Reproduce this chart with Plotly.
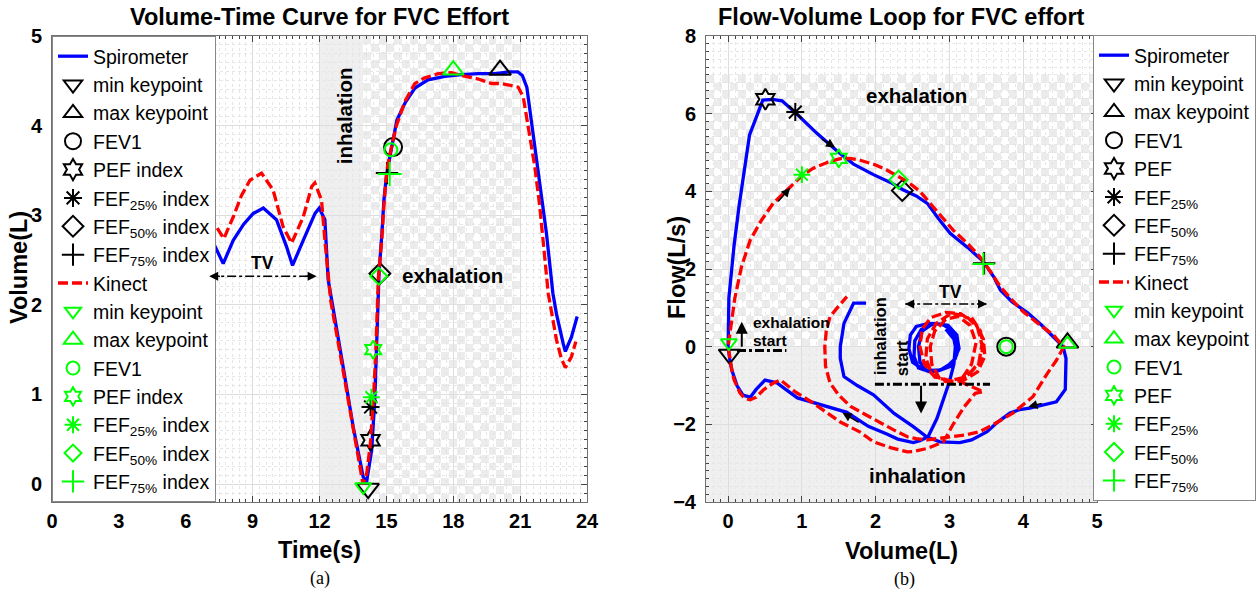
import plotly.graph_objects as go

# ---------------- Volume-time curve (panel a) ----------------
spiro_t = [7.0, 7.3, 7.68, 8.13, 8.6, 9.03, 9.48, 10.07, 10.52, 10.79, 11.27, 11.8, 11.99,
           12.24, 12.39, 12.54, 12.8, 13.06, 13.51, 13.96, 14.11, 14.34, 14.48, 14.56, 14.63,
           14.67, 14.8, 14.89, 15.02, 15.25, 15.38, 15.47, 15.83, 16.28, 16.87, 17.62, 18.37,
           19.12, 19.87, 20.5, 20.9, 21.1, 21.3, 21.58, 21.88, 22.18, 22.47, 22.63, 22.93,
           23.03, 23.3, 23.56]
spiro_v = [2.86, 2.66, 2.46, 2.72, 2.9, 3.02, 3.08, 2.95, 2.65, 2.44, 2.72, 3.02, 3.08,
           2.95, 2.28, 2.05, 1.68, 1.31, 0.64, 0.08, 0.02, 0.38, 0.94, 1.5, 2.05,
           2.35, 2.8, 3.17, 3.47, 3.76, 3.91, 4.06, 4.25, 4.42, 4.51, 4.55, 4.57,
           4.58, 4.58, 4.6, 4.6, 4.56, 4.43, 3.91, 3.32, 2.8, 2.13, 1.9, 1.57,
           1.48, 1.64, 1.87]

kinect_t = [7.0, 7.3, 7.71, 8.13, 8.5, 8.88, 9.4, 9.92, 10.37, 10.75, 11.27, 11.65, 11.79,
            12.09, 12.25, 12.4, 12.5, 13.0, 13.45, 13.95, 14.12, 14.28, 14.42, 14.53, 14.64,
            14.8, 14.9, 15.02, 15.2, 15.45, 15.83, 16.28, 16.7, 17.03, 17.32, 17.92, 18.37,
            19.12, 19.72, 20.16, 20.6, 20.91, 21.14, 21.43, 21.66, 21.88, 22.26, 22.63, 22.85,
            23.03, 23.3, 23.5]
kinect_v = [3.15, 2.9, 2.74, 2.98, 3.22, 3.39, 3.47, 3.28, 2.87, 2.69, 2.98, 3.32, 3.36,
            3.17, 2.7, 2.25, 2.05, 1.35, 0.7, 0.0, 0.12, 0.45, 0.95, 1.5, 2.3,
            2.75, 3.15, 3.5, 3.73, 4.0, 4.27, 4.47, 4.53, 4.56, 4.58, 4.59, 4.56,
            4.52, 4.47, 4.47, 4.45, 4.43, 4.32, 3.91, 3.54, 3.1, 2.13, 1.61, 1.4,
            1.3, 1.42, 1.59]

key_labels_vt = ["min keypoint", "max keypoint", "FEV1", "PEF index",
                 "FEF<sub>25%</sub> index", "FEF<sub>50%</sub> index", "FEF<sub>75%</sub> index"]
spiro_key_t = [14.18, 20.1, 15.3, 14.29, 14.29, 14.71, 15.03]
spiro_key_v = [-0.05, 4.62, 3.76, 0.49, 0.86, 2.35, 3.47]
kinect_key_t = [13.96, 18.0, 15.2, 14.41, 14.33, 14.66, 15.15]
kinect_key_v = [-0.03, 4.62, 3.73, 1.5, 0.97, 2.32, 3.46]

# ---------------- Flow-volume loop (panel b) ----------------
fv_spiro_vol = [
    # tidal loops
    2.95, 3.08, 3.1, 3.02, 2.85, 2.65, 2.5, 2.45, 2.47, 2.55, 2.72, 2.9, 3.05, 3.12, 3.08,
    2.95, 2.75, 2.58, 2.52, 2.53, 2.62, 2.8, 2.98, 3.1, 3.13, 3.05, 2.88, 2.7, 2.6, 2.58,
    2.63, 2.78, 2.95, 3.05, 3.08,
    # inhalation to residual volume
    3.06, 3.0, 2.92, 2.83, 2.71, 2.6, 2.51, 2.3, 2.15, 1.9, 1.61, 1.25, 0.94, 0.78, 0.66,
    0.5, 0.38, 0.3, 0.2, 0.12, 0.05, 0.02, 0.0,
    # forced exhalation
    0.01, 0.08, 0.15, 0.22, 0.29, 0.38, 0.47, 0.6, 0.73, 0.91, 1.2, 1.48, 1.7, 1.97, 2.2,
    2.37, 2.55, 2.7, 2.85, 3.01, 3.25, 3.46, 3.6, 3.69, 3.85, 4.06, 4.25, 4.41, 4.54,
    # inhalation after the effort
    4.58, 4.57, 4.45, 4.25, 4.09, 3.95, 3.82, 3.65, 3.51, 3.3, 3.14, 2.87, 2.69, 2.51,
    2.25, 1.97, 1.75, 1.57, 1.52, 1.52, 1.57, 1.7, 1.87]
fv_spiro_flow = [
    0.45, 0.15, -0.2, -0.5, -0.62, -0.6, -0.4, -0.05, 0.3, 0.52, 0.6, 0.58, 0.4, 0.05, -0.3,
    -0.55, -0.66, -0.55, -0.25, 0.15, 0.45, 0.6, 0.55, 0.3, -0.05, -0.4, -0.6, -0.62, -0.4, 0.0,
    0.4, 0.6, 0.55, 0.3, 0.0,
    -0.45, -0.9, -1.35, -1.85, -2.32, -2.42, -2.47, -2.38, -2.25, -2.05, -1.69, -1.5, -1.32, -1.1, -0.93,
    -0.86, -1.1, -1.3, -1.25, -1.0, -0.6, -0.3, 0.0,
    1.25, 2.6, 3.65, 4.6, 5.45, 5.9, 6.35, 6.37, 6.33, 6.03, 5.5, 5.03, 4.7, 4.43, 4.23,
    4.04, 3.88, 3.69, 3.3, 2.92, 2.55, 2.19, 1.8, 1.46, 1.15, 0.87, 0.55, 0.25, 0.0,
    -0.3, -1.1, -1.42, -1.52, -1.58, -1.62, -1.71, -1.95, -2.19, -2.4, -2.47, -2.45, -2.32, -2.06,
    -1.72, -1.24, -1.0, -0.77, -0.3, 0.0, 0.6, 1.12, 1.12]

fv_kinect_vol = [
    # tidal loops
    3.3, 3.42, 3.46, 3.4, 3.22, 3.0, 2.8, 2.66, 2.6, 2.63, 2.75, 2.95, 3.15, 3.35, 3.46,
    3.48, 3.38, 3.18, 2.95, 2.76, 2.68, 2.7, 2.82, 3.02, 3.22, 3.38, 3.44, 3.4, 3.25, 3.05,
    2.86, 2.76, 2.74, 2.8, 2.95, 3.12, 3.28, 3.36, 3.3, 3.14, 3.46,
    # inhalation to residual volume
    3.35, 3.2, 3.05, 2.92, 2.7, 2.51, 2.43, 2.2, 1.97, 1.79, 1.52, 1.15, 0.9, 0.71, 0.6,
    0.48, 0.38, 0.3, 0.22, 0.16, 0.08, 0.05, 0.02, 0.0,
    # forced exhalation
    0.09, 0.18, 0.3, 0.45, 0.61, 0.75, 0.87, 1.0, 1.15, 1.35, 1.52, 1.65, 1.79, 2.0, 2.15,
    2.3, 2.43, 2.6, 2.74, 2.9, 3.05, 3.25, 3.41, 3.55, 3.69, 3.85, 4.0, 4.2, 4.41, 4.5, 4.55,
    # inhalation after the effort
    4.45, 4.33, 4.13, 3.86, 3.6, 3.41, 3.2, 3.05, 2.87, 2.7, 2.55, 2.43, 2.25, 2.07, 1.85,
    1.66, 1.5, 1.38, 1.32, 1.31, 1.33, 1.38, 1.5, 1.61]
fv_kinect_flow = [
    0.75, 0.4, 0.0, -0.45, -0.78, -0.88, -0.78, -0.45, 0.0, 0.45, 0.75, 0.88, 0.85, 0.6, 0.2,
    -0.25, -0.65, -0.88, -0.9, -0.7, -0.3, 0.2, 0.6, 0.85, 0.8, 0.5, 0.05, -0.4, -0.75, -0.9,
    -0.8, -0.45, 0.0, 0.4, 0.7, 0.78, 0.55, 0.1, -0.45, -0.9, -1.16,
    -1.2, -1.55, -2.0, -2.45, -2.62, -2.7, -2.71, -2.6, -2.45, -2.2, -1.94, -1.45, -1.15, -0.86, -0.95,
    -1.11, -1.3, -1.37, -1.33, -1.19, -0.85, -0.6, -0.3, 0.0,
    1.24, 2.05, 2.75, 3.25, 3.69, 3.95, 4.16, 4.4, 4.59, 4.75, 4.84, 4.85, 4.8, 4.68, 4.55,
    4.4, 4.25, 4.0, 3.69, 3.35, 3.0, 2.65, 2.32, 1.95, 1.54, 1.2, 0.9, 0.6, 0.3, 0.1, 0.0,
    -0.35, -0.68, -1.29, -1.71, -2.0, -2.19, -2.28, -2.32, -2.36, -2.4, -2.37, -2.32, -2.15, -1.97, -1.75,
    -1.54, -1.25, -0.93, -0.5, 0.0, 0.4, 0.77, 1.05, 1.29]

key_labels_fv = ["min keypoint", "max keypoint", "FEV1", "PEF",
                 "FEF<sub>25%</sub>", "FEF<sub>50%</sub>", "FEF<sub>75%</sub>"]
spiro_key_vol = [0.02, 4.6, 3.77, 0.505, 0.91, 2.36, 3.47]
spiro_key_flow = [-0.2, 0.1, 0.0, 6.37, 6.04, 4.02, 2.15]
kinect_key_vol = [0.01, 4.6, 3.77, 1.5, 1.0, 2.31, 3.46]
kinect_key_flow = [0.1, 0.07, 0.0, 4.85, 4.43, 4.3, 2.13]

# ---------------- styling ----------------
W, H = 1260, 593
FONT = "Liberation Sans"
BLUE, RED, GREEN = "#0000ff", "#ff0000", "#00ff00"
symbols = ["triangle-down-open", "triangle-up-open", "circle-open", "hexagram-open",
           "asterisk-open", "diamond-open", "cross-thin-open"]
black_sizes = [19, 19, 18, 16, 15, 16, 16]
green_sizes_vt = [14, 18, 13, 14, 14, 13, 17]
green_sizes_fv = [14, 15, 13, 14, 14, 14, 16]
LEGEND_FONT = 19.5


def px_x(p):
    return p / W


def px_y(p):
    return 1 - p / H


dom_y = [px_y(502), px_y(36)]
dom_x1 = [px_x(52), px_x(587)]
dom_x2 = [px_x(706), px_x(1097)]


def checker(x0, x1, y0, y1, nx, ny):
    """Light checkerboard texture used to shade a breathing phase."""
    dx = (x1 - x0) / nx
    dy = (y1 - y0) / ny
    z = [[1 if (i + j) % 2 == 0 else None for i in range(nx)] for j in range(ny)]
    return dict(z=z, x0=x0 + dx / 2, dx=dx, y0=y0 + dy / 2, dy=dy)


fig = go.Figure()

# shaded phases
c1 = checker(13.95, 21.0, -0.2, 5.0, 20, 59)
fig.add_trace(go.Heatmap(**c1, colorscale=[[0, "#e2e2e2"], [1, "#e2e2e2"]], showscale=False,
                         opacity=0.65, hoverinfo="skip", xaxis="x", yaxis="y"))
c2 = checker(-0.3, 5.0, 0.0, 7.0, 49, 35)
fig.add_trace(go.Heatmap(**c2, colorscale=[[0, "#e2e2e2"], [1, "#e2e2e2"]], showscale=False,
                         opacity=0.65, hoverinfo="skip", xaxis="x2", yaxis="y2"))

# panel (a) curves and keypoints
fig.add_trace(go.Scatter(x=spiro_t, y=spiro_v, mode="lines", name="Spirometer",
                         line=dict(color=BLUE, width=3.3), xaxis="x", yaxis="y", legend="legend"))
for i, lab in enumerate(key_labels_vt):
    fig.add_trace(go.Scatter(x=[spiro_key_t[i]], y=[spiro_key_v[i]], mode="markers", name=lab,
                             marker=dict(symbol=symbols[i], size=black_sizes[i], color="black",
                                         line=dict(color="black", width=2)),
                             xaxis="x", yaxis="y", legend="legend"))
fig.add_trace(go.Scatter(x=kinect_t, y=kinect_v, mode="lines", name="Kinect",
                         line=dict(color=RED, width=3.3, dash="10px,4px"), xaxis="x", yaxis="y",
                         legend="legend"))
for i, lab in enumerate(key_labels_vt):
    fig.add_trace(go.Scatter(x=[kinect_key_t[i]], y=[kinect_key_v[i]], mode="markers", name=lab,
                             marker=dict(symbol=symbols[i], size=green_sizes_vt[i], color=GREEN,
                                         line=dict(color=GREEN, width=2)),
                             xaxis="x", yaxis="y", legend="legend"))

# panel (b) curves and keypoints
fig.add_trace(go.Scatter(x=fv_spiro_vol, y=fv_spiro_flow, mode="lines", name="Spirometer",
                         line=dict(color=BLUE, width=3.3), xaxis="x2", yaxis="y2", legend="legend2"))
for i, lab in enumerate(key_labels_fv):
    fig.add_trace(go.Scatter(x=[spiro_key_vol[i]], y=[spiro_key_flow[i]], mode="markers", name=lab,
                             marker=dict(symbol=symbols[i], size=black_sizes[i], color="black",
                                         line=dict(color="black", width=2)),
                             xaxis="x2", yaxis="y2", legend="legend2"))
fig.add_trace(go.Scatter(x=fv_kinect_vol, y=fv_kinect_flow, mode="lines", name="Kinect",
                         line=dict(color=RED, width=3.3, dash="10px,4px"), xaxis="x2", yaxis="y2",
                         legend="legend2"))
for i, lab in enumerate(key_labels_fv):
    fig.add_trace(go.Scatter(x=[kinect_key_vol[i]], y=[kinect_key_flow[i]], mode="markers", name=lab,
                             marker=dict(symbol=symbols[i], size=green_sizes_fv[i], color=GREEN,
                                         line=dict(color=GREEN, width=2)),
                             xaxis="x2", yaxis="y2", legend="legend2"))

axis_common = dict(showline=True, linecolor="#707070", linewidth=1, mirror="allticks",
                   ticks="inside", ticklen=6, tickcolor="#444", tickwidth=1,
                   showgrid=True, gridcolor="#dddddd", gridwidth=1, zeroline=False,
                   tickfont=dict(family=FONT, size=20, color="black", weight="bold"),
                   automargin=False)


def minor(step):
    return dict(dtick=step, ticklen=3, ticks="inside", tickcolor="#444",
                showgrid=True, gridcolor="#e6e6e6", griddash="dot")


fig.update_layout(
    width=W, height=H, margin=dict(l=0, r=0, t=0, b=0),
    paper_bgcolor="white", plot_bgcolor="white",
    font=dict(family=FONT, color="black"),
    showlegend=True,
    xaxis=dict(domain=dom_x1, range=[0, 24], tickvals=[0, 3, 6, 9, 12, 15, 18, 21, 24],
               anchor="y", ticklabelstandoff=1, minor=minor(0.3), **axis_common),
    yaxis=dict(domain=dom_y, range=[-0.2, 5], tickvals=[0, 1, 2, 3, 4, 5], anchor="x",
               ticklabelstandoff=5, minor=minor(0.1), **axis_common),
    xaxis2=dict(domain=dom_x2, range=[-0.3, 5], tickvals=[0, 1, 2, 3, 4, 5], anchor="y2",
                ticklabelstandoff=1, minor=minor(0.1), **axis_common),
    yaxis2=dict(domain=dom_y, range=[-4, 8], tickvals=[-4, -2, 0, 2, 4, 6, 8], anchor="x2",
                ticklabelstandoff=5, minor=minor(0.2), **axis_common),
    legend=dict(x=px_x(52), y=px_y(36), xanchor="left", yanchor="top", bgcolor="white",
                bordercolor="#888888", borderwidth=1, font=dict(family=FONT, size=LEGEND_FONT),
                tracegroupgap=0, itemwidth=30),
    legend2=dict(x=px_x(1093), y=px_y(35), xanchor="left", yanchor="top", bgcolor="white",
                 bordercolor="#888888", borderwidth=1, font=dict(family=FONT, size=LEGEND_FONT),
                 tracegroupgap=0, itemwidth=30),
)

# solid shading for the remaining phases
fig.add_shape(type="rect", xref="x", yref="y domain", x0=12.0, x1=13.95, y0=0, y1=1,
              fillcolor="#efefef", line=dict(width=0), layer="below")
fig.add_shape(type="rect", xref="x2 domain", yref="y2", x0=0, x1=1, y0=-4, y1=0,
              fillcolor="#efefef", line=dict(width=0), layer="below")

# dash-dot guide lines
fig.add_shape(type="line", xref="x", yref="y", x0=7.05, x1=11.87, y0=2.32, y1=2.32,
              line=dict(color="black", width=1.5, dash="dashdot"))
fig.add_shape(type="line", xref="x2", yref="y2", x0=2.4, x1=3.51, y0=1.1, y1=1.1,
              line=dict(color="black", width=1.5, dash="dashdot"))
fig.add_shape(type="line", xref="x2", yref="y2", x0=0.12, x1=0.79, y0=-0.1, y1=-0.1,
              line=dict(color="black", width=3, dash="dashdot"))
fig.add_shape(type="line", xref="x2", yref="y2", x0=1.99, x1=3.55, y0=-0.97, y1=-0.97,
              line=dict(color="black", width=3, dash="dashdot"))

ann = []


def arrow(xr, yr, x, y, ax, ay, width=1.5, head=2, size=1.2):
    ann.append(dict(xref=xr, yref=yr, axref=xr, ayref=yr, x=x, y=y, ax=ax, ay=ay, text="",
                    showarrow=True, arrowhead=head, arrowsize=size, arrowwidth=width,
                    arrowcolor="black"))


def label(x, y, text, size, xr="paper", yr="paper", angle=0, family=FONT, bold=True,
          xanchor="center"):
    ann.append(dict(xref=xr, yref=yr, x=x, y=y, text=text, showarrow=False, textangle=angle,
                    xanchor=xanchor, yanchor="middle",
                    font=dict(family=family, size=size, color="black",
                              weight="bold" if bold else "normal")))


# TV double-headed arrows
arrow("x", "y", 7.05, 2.32, 7.6, 2.32)
arrow("x", "y", 11.87, 2.32, 11.3, 2.32)
arrow("x2", "y2", 2.4, 1.1, 2.55, 1.1)
arrow("x2", "y2", 3.51, 1.1, 3.36, 1.1)
# direction arrows along the loop
arrow("x2", "y2", 1.45, 5.13, 1.25, 5.37)
arrow("x2", "y2", 0.84, 4.09, 0.66, 3.7)
arrow("x2", "y2", 1.55, -1.7, 1.79, -1.97)
arrow("x2", "y2", 4.07, -1.55, 4.27, -1.45)
# phase start markers
arrow("x2", "y2", 0.185, 0.64, 0.185, -0.04, width=2)
arrow("x2", "y2", 2.615, -1.72, 2.615, -0.97, width=2)

# panel titles, axis titles and captions
label(px_x(319.5), px_y(17), "Volume-Time Curve for FVC Effort", 23.5)
label(px_x(901.5), px_y(17), "Flow-Volume Loop for FVC effort", 23.5)
label(px_x(319.5), px_y(550), "Time(s)", 23.5)
label(px_x(901.5), px_y(551), "Volume(L)", 23.5)
label(px_x(19), px_y(268), "Volume(L)", 23.5, angle=-90)
label(px_x(677), px_y(268), "Flow(L/s)", 23.5, angle=-90)
label(px_x(319.5), px_y(578), "(a)", 18, family="Liberation Serif", bold=False)
label(px_x(904), px_y(579), "(b)", 18, family="Liberation Serif", bold=False)

# in-plot labels
label(9.46, 2.47, "TV", 17.5, xr="x", yr="y")
label(13.12, 4.11, "inhalation", 20.5, xr="x", yr="y", angle=-90)
label(17.98, 2.33, "exhalation", 20.5, xr="x", yr="y")
label(2.56, 6.46, "exhalation", 20.5, xr="x2", yr="y2")
label(2.57, -3.33, "inhalation", 20.5, xr="x2", yr="y2")
label(3.01, 1.41, "TV", 17.5, xr="x2", yr="y2")
label(0.31, 0.61, "exhalation", 15.5, xr="x2", yr="y2", xanchor="left")
label(0.31, 0.17, "start", 15.5, xr="x2", yr="y2", xanchor="left")
label(2.05, 0.28, "inhalation", 16.5, xr="x2", yr="y2", angle=-90)
label(2.36, -0.29, "start", 16.5, xr="x2", yr="y2", angle=-90)

fig.update_layout(annotations=ann)

fig.write_html("out.html")
